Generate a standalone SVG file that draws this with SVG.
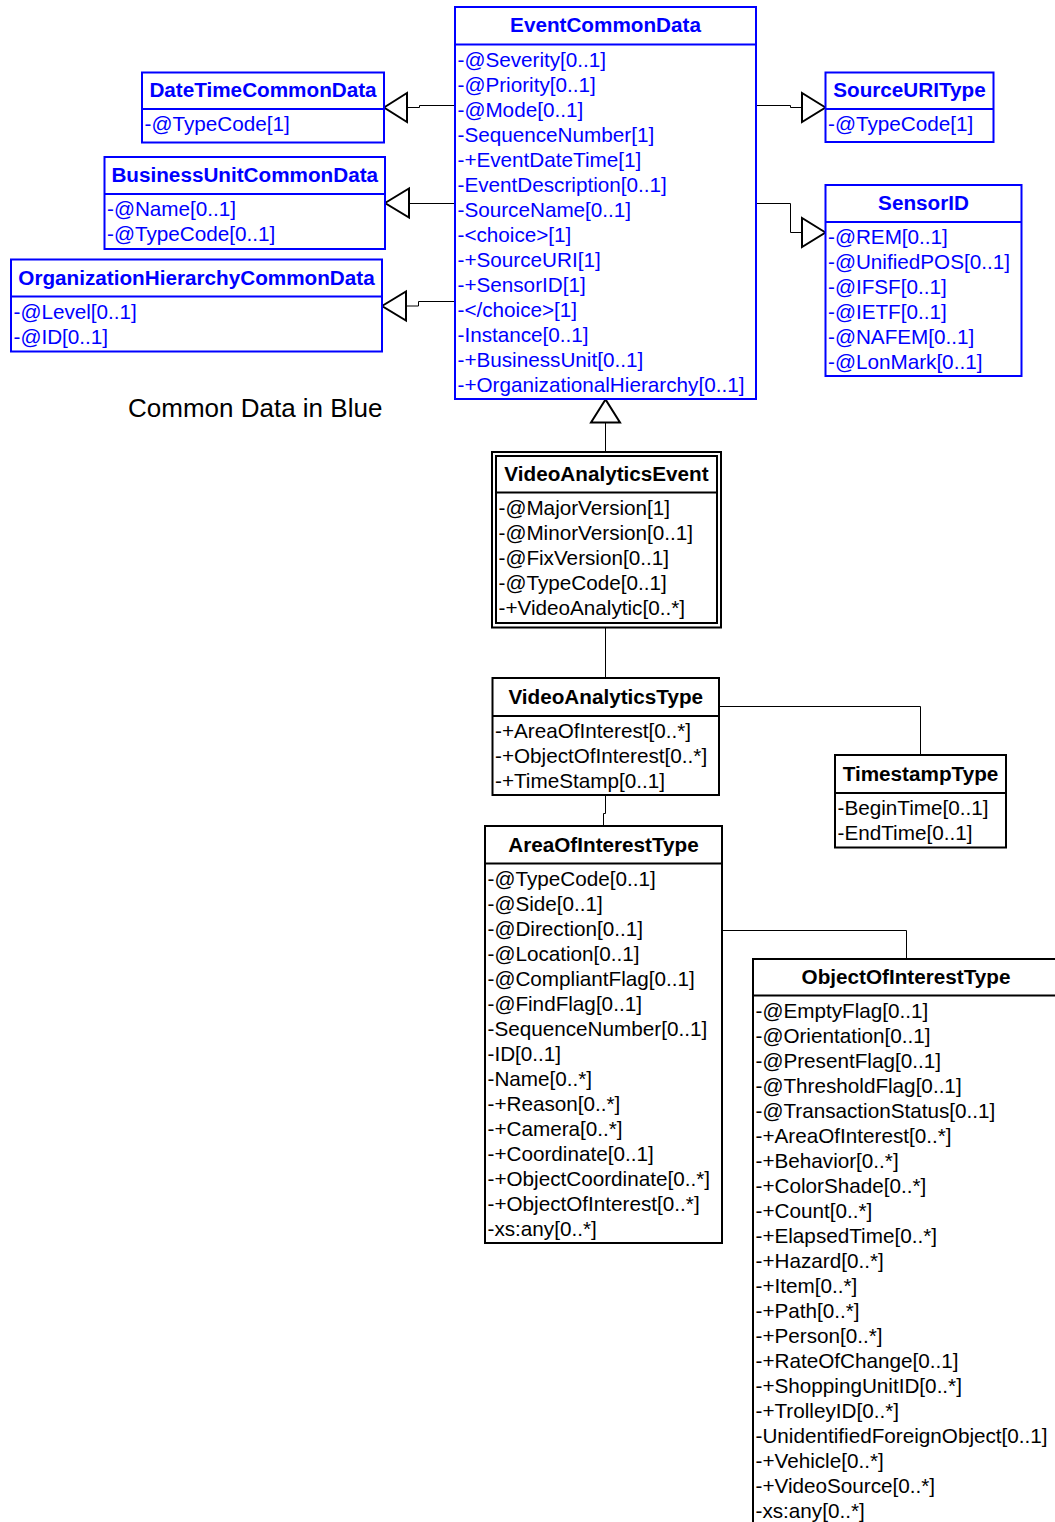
<svg xmlns="http://www.w3.org/2000/svg" width="1055" height="1522" viewBox="0 0 1055 1522">
<style>
  text { font-family: "Liberation Sans", Arial, sans-serif; font-size: 20.7px; }
  .t { font-weight: bold; text-anchor: middle; }
  .blue rect, .blue line { stroke: #0000ff; stroke-width: 2; fill: #ffffff; }
  .blue text { fill: #0000ff; }
  .black rect, .black line { stroke: #000000; stroke-width: 2; fill: #ffffff; }
  .black text { fill: #000000; }
  .conn path { fill: none; stroke: #000000; stroke-width: 1; }
  .conn polygon { fill: #ffffff; stroke: #000000; stroke-width: 2; stroke-linejoin: miter; }
  .note { font-size: 26px; fill: #000000; }
</style>
<rect x="0" y="0" width="1055" height="1522" fill="#ffffff"/>

<g id="connectors" class="conn">
  <path d="M455,105.5 H419.5 V107.5 H407"/>
  <polygon points="384,107.5 407,93 407,122"/>
  <path d="M455,203.5 H409"/>
  <polygon points="385,203 409,188.5 409,217.5"/>
  <path d="M455,301.5 H418.5 V306 H406"/>
  <polygon points="382,306 406,291.5 406,320.5"/>
  <path d="M756,105.5 H790.5 V107.5 H802"/>
  <polygon points="825.5,107.5 802,93 802,122"/>
  <path d="M756,203.5 H790.5 V232.5 H802"/>
  <polygon points="825.5,232.5 802,218 802,247"/>
  <path d="M605.5,422.5 V452"/>
  <polygon points="605.5,399.5 591,422.5 620,422.5"/>
  <path d="M605.5,627.5 V678"/>
  <path d="M719,706.5 H920.5 V755"/>
  <path d="M605.5,795 V813.5 H603.5 V826"/>
  <path d="M722,930.5 H906.5 V959"/>
</g>

<g id="EventCommonData" class="blue">
  <rect x="455" y="7" width="301" height="392"/>
  <line x1="455" y1="44.5" x2="756" y2="44.5"/>
  <text class="t" x="605.5" y="32">EventCommonData</text>
  <text x="457.5" y="66.5">-@Severity[0..1]</text>
  <text x="457.5" y="91.5">-@Priority[0..1]</text>
  <text x="457.5" y="116.5">-@Mode[0..1]</text>
  <text x="457.5" y="141.5">-SequenceNumber[1]</text>
  <text x="457.5" y="166.5">-+EventDateTime[1]</text>
  <text x="457.5" y="191.5">-EventDescription[0..1]</text>
  <text x="457.5" y="216.5">-SourceName[0..1]</text>
  <text x="457.5" y="241.5">-&lt;choice&gt;[1]</text>
  <text x="457.5" y="266.5">-+SourceURI[1]</text>
  <text x="457.5" y="291.5">-+SensorID[1]</text>
  <text x="457.5" y="316.5">-&lt;/choice&gt;[1]</text>
  <text x="457.5" y="341.5">-Instance[0..1]</text>
  <text x="457.5" y="366.5">-+BusinessUnit[0..1]</text>
  <text x="457.5" y="391.5">-+OrganizationalHierarchy[0..1]</text>
</g>

<g id="DateTimeCommonData" class="blue">
  <rect x="142" y="72.5" width="242" height="70"/>
  <line x1="142" y1="109" x2="384" y2="109"/>
  <text class="t" x="263" y="97">DateTimeCommonData</text>
  <text x="144.5" y="131">-@TypeCode[1]</text>
</g>

<g id="BusinessUnitCommonData" class="blue">
  <rect x="104.5" y="157" width="280.5" height="92"/>
  <line x1="104.5" y1="194" x2="385" y2="194"/>
  <text class="t" x="244.75" y="182">BusinessUnitCommonData</text>
  <text x="107" y="216">-@Name[0..1]</text>
  <text x="107" y="241">-@TypeCode[0..1]</text>
</g>

<g id="OrganizationHierarchyCommonData" class="blue">
  <rect x="11" y="259.5" width="371" height="92"/>
  <line x1="11" y1="296.5" x2="382" y2="296.5"/>
  <text class="t" x="196.5" y="284.5">OrganizationHierarchyCommonData</text>
  <text x="13.5" y="318.5">-@Level[0..1]</text>
  <text x="13.5" y="343.5">-@ID[0..1]</text>
</g>

<g id="SourceURIType" class="blue">
  <rect x="825.5" y="72.5" width="168" height="69.5"/>
  <line x1="825.5" y1="109" x2="993.5" y2="109"/>
  <text class="t" x="909.5" y="97">SourceURIType</text>
  <text x="828" y="131">-@TypeCode[1]</text>
</g>

<g id="SensorID" class="blue">
  <rect x="825.5" y="185" width="196" height="191"/>
  <line x1="825.5" y1="222" x2="1021.5" y2="222"/>
  <text class="t" x="923.5" y="210">SensorID</text>
  <text x="828" y="243.5">-@REM[0..1]</text>
  <text x="828" y="268.5">-@UnifiedPOS[0..1]</text>
  <text x="828" y="293.5">-@IFSF[0..1]</text>
  <text x="828" y="318.5">-@IETF[0..1]</text>
  <text x="828" y="343.5">-@NAFEM[0..1]</text>
  <text x="828" y="368.5">-@LonMark[0..1]</text>
</g>

<text id="legend" class="note" x="128" y="416.5">Common Data in Blue</text>

<g id="VideoAnalyticsEvent" class="black">
  <rect x="492" y="452" width="229" height="175.5"/>
  <rect x="496" y="456" width="221" height="167"/>
  <line x1="496" y1="492.5" x2="717" y2="492.5"/>
  <text class="t" x="606.5" y="481">VideoAnalyticsEvent</text>
  <text x="498.5" y="515">-@MajorVersion[1]</text>
  <text x="498.5" y="540">-@MinorVersion[0..1]</text>
  <text x="498.5" y="565">-@FixVersion[0..1]</text>
  <text x="498.5" y="590">-@TypeCode[0..1]</text>
  <text x="498.5" y="615">-+VideoAnalytic[0..*]</text>
</g>

<g id="VideoAnalyticsType" class="black">
  <rect x="492.5" y="678" width="226.5" height="117"/>
  <line x1="492.5" y1="716" x2="719" y2="716"/>
  <text class="t" x="605.75" y="704">VideoAnalyticsType</text>
  <text x="495" y="738">-+AreaOfInterest[0..*]</text>
  <text x="495" y="763">-+ObjectOfInterest[0..*]</text>
  <text x="495" y="788">-+TimeStamp[0..1]</text>
</g>

<g id="TimestampType" class="black">
  <rect x="835" y="755" width="171" height="92.5"/>
  <line x1="835" y1="793" x2="1006" y2="793"/>
  <text class="t" x="920.5" y="781">TimestampType</text>
  <text x="837.5" y="814.5">-BeginTime[0..1]</text>
  <text x="837.5" y="839.5">-EndTime[0..1]</text>
</g>

<g id="AreaOfInterestType" class="black">
  <rect x="485" y="826" width="237" height="417"/>
  <line x1="485" y1="863.5" x2="722" y2="863.5"/>
  <text class="t" x="603.5" y="851.5">AreaOfInterestType</text>
  <text x="487.5" y="885.5">-@TypeCode[0..1]</text>
  <text x="487.5" y="910.5">-@Side[0..1]</text>
  <text x="487.5" y="935.5">-@Direction[0..1]</text>
  <text x="487.5" y="960.5">-@Location[0..1]</text>
  <text x="487.5" y="985.5">-@CompliantFlag[0..1]</text>
  <text x="487.5" y="1010.5">-@FindFlag[0..1]</text>
  <text x="487.5" y="1035.5">-SequenceNumber[0..1]</text>
  <text x="487.5" y="1060.5">-ID[0..1]</text>
  <text x="487.5" y="1085.5">-Name[0..*]</text>
  <text x="487.5" y="1110.5">-+Reason[0..*]</text>
  <text x="487.5" y="1135.5">-+Camera[0..*]</text>
  <text x="487.5" y="1160.5">-+Coordinate[0..1]</text>
  <text x="487.5" y="1185.5">-+ObjectCoordinate[0..*]</text>
  <text x="487.5" y="1210.5">-+ObjectOfInterest[0..*]</text>
  <text x="487.5" y="1235.5">-xs:any[0..*]</text>
</g>

<g id="ObjectOfInterestType" class="black">
  <rect x="753" y="959" width="306" height="575"/>
  <line x1="753" y1="995.5" x2="1059" y2="995.5"/>
  <text class="t" x="906" y="983.5">ObjectOfInterestType</text>
  <text x="755.5" y="1017.5">-@EmptyFlag[0..1]</text>
  <text x="755.5" y="1042.5">-@Orientation[0..1]</text>
  <text x="755.5" y="1067.5">-@PresentFlag[0..1]</text>
  <text x="755.5" y="1092.5">-@ThresholdFlag[0..1]</text>
  <text x="755.5" y="1117.5">-@TransactionStatus[0..1]</text>
  <text x="755.5" y="1142.5">-+AreaOfInterest[0..*]</text>
  <text x="755.5" y="1167.5">-+Behavior[0..*]</text>
  <text x="755.5" y="1192.5">-+ColorShade[0..*]</text>
  <text x="755.5" y="1217.5">-+Count[0..*]</text>
  <text x="755.5" y="1242.5">-+ElapsedTime[0..*]</text>
  <text x="755.5" y="1267.5">-+Hazard[0..*]</text>
  <text x="755.5" y="1292.5">-+Item[0..*]</text>
  <text x="755.5" y="1317.5">-+Path[0..*]</text>
  <text x="755.5" y="1342.5">-+Person[0..*]</text>
  <text x="755.5" y="1367.5">-+RateOfChange[0..1]</text>
  <text x="755.5" y="1392.5">-+ShoppingUnitID[0..*]</text>
  <text x="755.5" y="1417.5">-+TrolleyID[0..*]</text>
  <text x="755.5" y="1442.5">-UnidentifiedForeignObject[0..1]</text>
  <text x="755.5" y="1467.5">-+Vehicle[0..*]</text>
  <text x="755.5" y="1492.5">-+VideoSource[0..*]</text>
  <text x="755.5" y="1517.5">-xs:any[0..*]</text>
</g>
</svg>
